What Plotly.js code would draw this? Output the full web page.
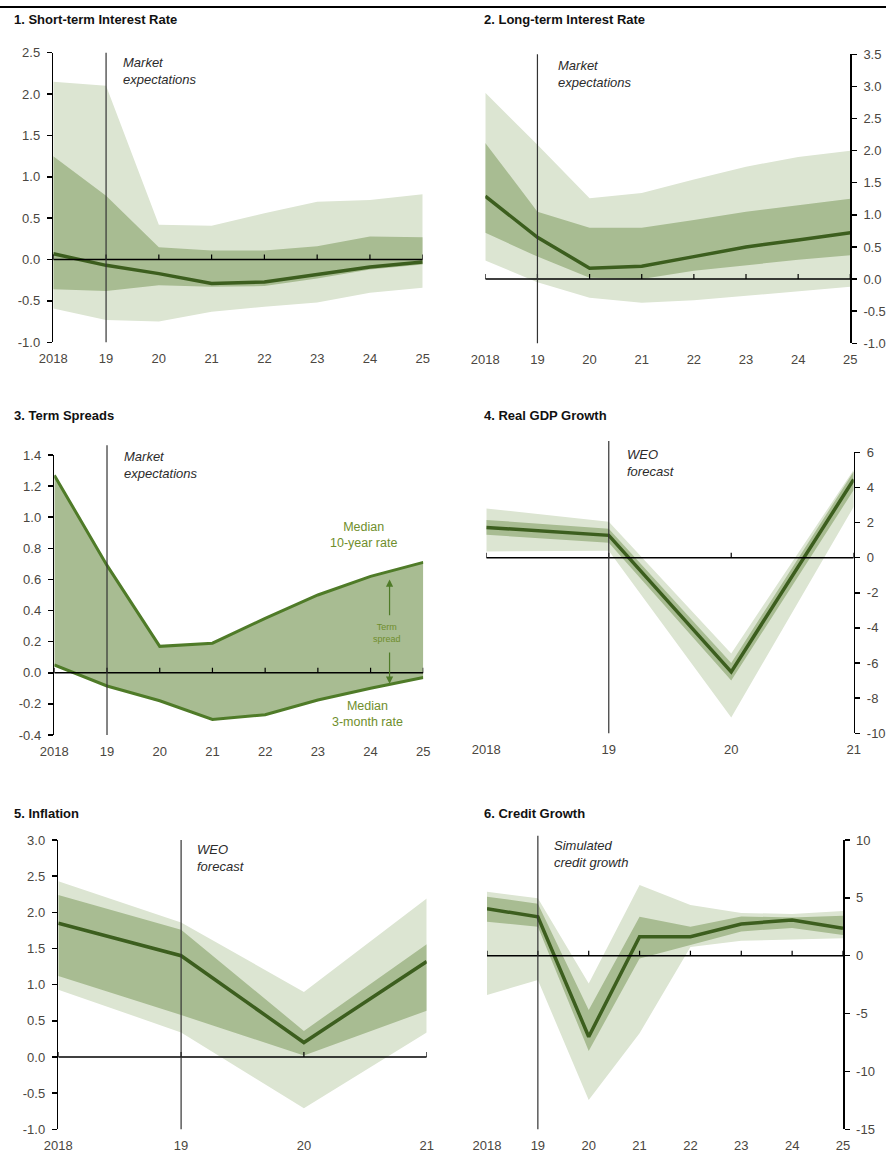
<!DOCTYPE html>
<html><head><meta charset="utf-8">
<script src="https://cdn.plot.ly/plotly-3.0.1.min.js"></script>
<style>html,body{margin:0;padding:0;background:#fff}#chart{width:886px;height:1157px}</style>
</head><body><div id="chart"></div>
<script>
// ---------- categories ----------
const yearsLong = [2018, 2019, 2020, 2021, 2022, 2023, 2024, 2025];
const labelsLong = ['2018', '19', '20', '21', '22', '23', '24', '25'];
const yearsShort = [2018, 2019, 2020, 2021];
const labelsShort = ['2018', '19', '20', '21'];
const forecastStart = 2019;

// ---------- 1. Short-term interest rate ----------
const p1Median  = [0.07, -0.07, -0.17, -0.29, -0.27, -0.18, -0.09, -0.03];
const p1DarkHi  = [1.25, 0.77, 0.15, 0.11, 0.11, 0.16, 0.28, 0.27];
const p1DarkLo  = [-0.36, -0.38, -0.31, -0.33, -0.32, -0.23, -0.12, -0.06];
const p1LightHi = [2.15, 2.10, 0.42, 0.41, 0.56, 0.70, 0.72, 0.79];
const p1LightLo = [-0.59, -0.73, -0.75, -0.63, -0.57, -0.52, -0.40, -0.34];
const p1YTicks  = [-1.0, -0.5, 0.0, 0.5, 1.0, 1.5, 2.0, 2.5];
const p1YLabels = ['-1.0', '-0.5', '0.0', '0.5', '1.0', '1.5', '2.0', '2.5'];

// ---------- 2. Long-term interest rate ----------
const p2Median  = [1.29, 0.65, 0.17, 0.20, 0.35, 0.50, 0.61, 0.72];
const p2DarkHi  = [2.12, 1.05, 0.80, 0.80, 0.92, 1.05, 1.15, 1.25];
const p2DarkLo  = [0.72, 0.35, 0.02, 0.00, 0.13, 0.22, 0.30, 0.37];
const p2LightHi = [2.90, 2.09, 1.26, 1.34, 1.55, 1.75, 1.90, 2.00];
const p2LightLo = [0.29, -0.05, -0.29, -0.37, -0.33, -0.26, -0.20, -0.12];
const p2YTicks  = [-1.0, -0.5, 0.0, 0.5, 1.0, 1.5, 2.0, 2.5, 3.0, 3.5];
const p2YLabels = ['-1.0', '-0.5', '0.0', '0.5', '1.0', '1.5', '2.0', '2.5', '3.0', '3.5'];

// ---------- 3. Term spreads ----------
const p3TenYear   = [1.27, 0.69, 0.17, 0.19, 0.35, 0.50, 0.62, 0.71];
const p3ThreeMonth = [0.05, -0.085, -0.18, -0.30, -0.27, -0.175, -0.10, -0.03];
const p3YTicks  = [-0.4, -0.2, 0.0, 0.2, 0.4, 0.6, 0.8, 1.0, 1.2, 1.4];
const p3YLabels = ['-0.4', '-0.2', '0.0', '0.2', '0.4', '0.6', '0.8', '1.0', '1.2', '1.4'];
const p3ArrowX = 2024.36, p3ArrowTop = 0.60, p3ArrowBottom = -0.07;

// ---------- 4. Real GDP growth ----------
const p4Median  = [1.72, 1.27, -6.5, 4.45];
const p4DarkHi  = [2.15, 1.65, -6.0, 4.9];
const p4DarkLo  = [1.30, 0.85, -7.0, 3.85];
const p4LightHi = [2.80, 2.05, -5.45, 5.0];
const p4LightLo = [0.35, 0.40, -9.1, 2.9];
const p4YTicks  = [-10, -8, -6, -4, -2, 0, 2, 4, 6];
const p4YLabels = ['-10', '-8', '-6', '-4', '-2', '0', '2', '4', '6'];

// ---------- 5. Inflation ----------
const p5Median  = [1.85, 1.40, 0.20, 1.32];
const p5DarkHi  = [2.24, 1.76, 0.36, 1.56];
const p5DarkLo  = [1.12, 0.58, 0.02, 0.64];
const p5LightHi = [2.43, 1.86, 0.90, 2.19];
const p5LightLo = [0.93, 0.34, -0.71, 0.34];
const p5YTicks  = [-1.0, -0.5, 0.0, 0.5, 1.0, 1.5, 2.0, 2.5, 3.0];
const p5YLabels = ['-1.0', '-0.5', '0.0', '0.5', '1.0', '1.5', '2.0', '2.5', '3.0'];

// ---------- 6. Credit growth ----------
const p6Median  = [4.05, 3.37, -7.0, 1.64, 1.64, 2.74, 3.09, 2.37];
const p6DarkHi  = [5.1, 4.5, -4.7, 3.37, 2.5, 3.4, 3.3, 3.45];
const p6DarkLo  = [2.94, 2.5, -8.24, -0.23, 0.92, 2.1, 2.4, 1.79];
const p6LightHi = [5.53, 4.96, -2.39, 6.11, 4.38, 3.7, 3.6, 3.86];
const p6LightLo = [-3.4, -2.1, -12.47, -6.7, 0.75, 1.3, 1.4, 1.5];
const p6YTicks  = [-15, -10, -5, 0, 5, 10];
const p6YLabels = ['-15', '-10', '-5', '0', '5', '10'];

// ---------- styles ----------
const LIGHT = '#dce5d2', DARK = '#a8bc92', MEDIAN = '#3c5e1e', SPREADLINE = '#4f7b28', OLIVE = '#6f8e2c';
const FONT = 'Liberation Sans, Arial, sans-serif';
const TICKFONT = {family: FONT, size: 13, color: '#4a4640'};

const panels = [
  {title: '1. Short-term Interest Rate', x: yearsLong, xl: labelsLong, side: 'left',
   dom: [[53.3, 422.7], [52.7, 342.3]], yr: [-1, 2.5], yt: p1YTicks, yl: p1YLabels,
   note: 'Market<br>expectations', noteX: 2019.28, noteY: 1.0, titlePos: [12, 10], vTop: 1.0,
   bands: [p1LightLo, p1LightHi, p1DarkLo, p1DarkHi, p1Median]},
  {title: '2. Long-term Interest Rate', x: yearsLong, xl: labelsLong, side: 'right',
   dom: [[485.3, 850.3], [54.3, 343.3]], yr: [-1, 3.5], yt: p2YTicks, yl: p2YLabels,
   note: 'Market<br>expectations', noteX: 2019.36, noteY: 0.995, titlePos: [482, 10], vTop: 1.0,
   bands: [p2LightLo, p2LightHi, p2DarkLo, p2DarkHi, p2Median]},
  {title: '3. Term Spreads', x: yearsLong, xl: labelsLong, side: 'left',
   dom: [[54.3, 423.3], [455, 735]], yr: [-0.4, 1.4], yt: p3YTicks, yl: p3YLabels,
   note: 'Market<br>expectations', noteX: 2019.28, noteY: 1.03, titlePos: [12, 406], vTop: 1.035,
   spread: [p3ThreeMonth, p3TenYear]},
  {title: '4. Real GDP Growth', x: yearsShort, xl: labelsShort, side: 'right',
   dom: [[486.3, 853.7], [452.3, 733.3]], yr: [-10, 6], yt: p4YTicks, yl: p4YLabels,
   note: 'WEO<br>forecast', noteX: 2019.13, noteY: 1.025, titlePos: [482, 406], vTop: 1.04,
   bands: [p4LightLo, p4LightHi, p4DarkLo, p4DarkHi, p4Median]},
  {title: '5. Inflation', x: yearsShort, xl: labelsShort, side: 'left',
   dom: [[58.3, 426.7], [840, 1129.3]], yr: [-1, 3], yt: p5YTicks, yl: p5YLabels,
   note: 'WEO<br>forecast', noteX: 2019.11, noteY: 1.0, titlePos: [12, 804], vTop: 1.0,
   bands: [p5LightLo, p5LightHi, p5DarkLo, p5DarkHi, p5Median]},
  {title: '6. Credit Growth', x: yearsLong, xl: labelsLong, side: 'right',
   dom: [[487, 843], [840, 1129.3]], yr: [-15, 10], yt: p6YTicks, yl: p6YLabels,
   note: 'Simulated<br>credit growth', noteX: 2019.28, noteY: 1.015, titlePos: [482, 804], vTop: 1.015,
   bands: [p6LightLo, p6LightHi, p6DarkLo, p6DarkHi, p6Median]}
];

const W = 886, H = 1157;
const traces = [], shapes = [], annotations = [];
const layout = {
  width: W, height: H, margin: {l: 0, r: 0, t: 0, b: 0},
  paper_bgcolor: '#ffffff', plot_bgcolor: 'rgba(0,0,0,0)', showlegend: false,
  font: {family: FONT, size: 12.5, color: '#4a4a4a'}
};

// top rule
shapes.push({type: 'line', xref: 'paper', yref: 'paper', x0: 0, x1: 1, y0: 1 - 7 / H, y1: 1 - 7 / H,
  line: {color: '#000', width: 2}});

panels.forEach((p, i) => {
  const n = i + 1;
  const xa = 'x' + (n === 1 ? '' : n), ya = 'y' + (n === 1 ? '' : n);
  const xk = 'xaxis' + (n === 1 ? '' : n), yk = 'yaxis' + (n === 1 ? '' : n);
  const x0 = p.x[0], x1 = p.x[p.x.length - 1];

  layout[xk] = {
    domain: [p.dom[0][0] / W, p.dom[0][1] / W], range: [x0, x1], anchor: ya,
    tickmode: 'array', tickvals: p.x, ticktext: p.xl, showline: false, ticks: '',
    showgrid: false, zeroline: false, fixedrange: true, ticklabelstandoff: 7, tickfont: TICKFONT
  };
  layout[yk] = {
    domain: [1 - p.dom[1][1] / H, 1 - p.dom[1][0] / H], range: p.yr, anchor: xa, side: p.side,
    tickmode: 'array', tickvals: p.yt, ticktext: p.yl, showline: true, linecolor: '#000', linewidth: 1.5,
    ticks: 'outside', ticklen: 5, tickwidth: 1.5, tickcolor: '#000', showgrid: false, zeroline: false,
    fixedrange: true, ticklabelstandoff: 4, tickfont: TICKFONT
  };

  const common = {type: 'scatter', mode: 'lines', xaxis: xa, yaxis: ya, hoverinfo: 'skip'};
  if (p.bands) {
    const [lLo, lHi, dLo, dHi, med] = p.bands;
    traces.push(Object.assign({}, common, {x: p.x, y: lLo, line: {width: 0, color: LIGHT}}));
    traces.push(Object.assign({}, common, {x: p.x, y: lHi, line: {width: 0, color: LIGHT}, fill: 'tonexty', fillcolor: LIGHT}));
    traces.push(Object.assign({}, common, {x: p.x, y: dLo, line: {width: 0, color: DARK}}));
    traces.push(Object.assign({}, common, {x: p.x, y: dHi, line: {width: 0, color: DARK}, fill: 'tonexty', fillcolor: DARK}));
    traces.push(Object.assign({}, common, {x: p.x, y: med, line: {width: 3.5, color: MEDIAN}}));
  } else if (p.spread) {
    const [lo, hi] = p.spread;
    traces.push(Object.assign({}, common, {x: p.x, y: lo, line: {width: 3, color: SPREADLINE}}));
    traces.push(Object.assign({}, common, {x: p.x, y: hi, line: {width: 3, color: SPREADLINE}, fill: 'tonexty', fillcolor: DARK}));
  }

  // zero line with upward ticks
  shapes.push({type: 'line', xref: xa, yref: ya, x0: x0, x1: x1, y0: 0, y1: 0, layer: 'above',
    line: {color: '#000', width: 1.5}});
  p.x.forEach(v => {
    shapes.push({type: 'line', xref: xa, yref: ya, ysizemode: 'pixel', yanchor: 0,
      x0: v, x1: v, y0: 0, y1: 5, layer: 'above', line: {color: '#000', width: 1.2}});
  });
  // forecast start line
  shapes.push({type: 'line', xref: xa, yref: ya + ' domain', x0: forecastStart, x1: forecastStart,
    y0: 0, y1: p.vTop, layer: 'above', line: {color: '#333', width: 1.2}});

  annotations.push({xref: xa, yref: ya + ' domain', x: p.noteX, y: p.noteY, xanchor: 'left', yanchor: 'top',
    align: 'left', showarrow: false, text: '<i>' + p.note + '</i>',
    font: {family: FONT, size: 13, color: '#2b2b2b'}});
  annotations.push({xref: 'paper', yref: 'paper', x: p.titlePos[0] / W, y: 1 - p.titlePos[1] / H,
    xanchor: 'left', yanchor: 'top', showarrow: false, text: '<b>' + p.title + '</b>',
    font: {family: FONT, size: 13, color: '#111'}});

  if (p.spread) {
    annotations.push({xref: xa, yref: ya, x: 2023.86, y: 0.885, showarrow: false, text: 'Median<br>10-year rate',
      font: {family: FONT, size: 12.5, color: OLIVE}});
    annotations.push({xref: xa, yref: ya, x: 2023.95, y: -0.265, showarrow: false, text: 'Median<br>3-month rate',
      font: {family: FONT, size: 12.5, color: OLIVE}});
    annotations.push({xref: xa, yref: ya, x: 2024.31, y: 0.255, showarrow: false, text: 'Term<br>spread',
      font: {family: FONT, size: 9, color: OLIVE}});
    annotations.push({xref: xa, yref: ya, axref: xa, ayref: ya, x: p3ArrowX, y: p3ArrowTop,
      ax: p3ArrowX, ay: 0.36, showarrow: true, arrowhead: 2, arrowsize: 1.2, arrowwidth: 1.2,
      arrowcolor: SPREADLINE, text: ''});
    annotations.push({xref: xa, yref: ya, axref: xa, ayref: ya, x: p3ArrowX, y: p3ArrowBottom,
      ax: p3ArrowX, ay: 0.14, showarrow: true, arrowhead: 2, arrowsize: 1.2, arrowwidth: 1.2,
      arrowcolor: SPREADLINE, text: ''});
  }
});

layout.shapes = shapes;
layout.annotations = annotations;
Plotly.newPlot('chart', traces, layout, {staticPlot: true, displayModeBar: false});
</script>
</body></html>
